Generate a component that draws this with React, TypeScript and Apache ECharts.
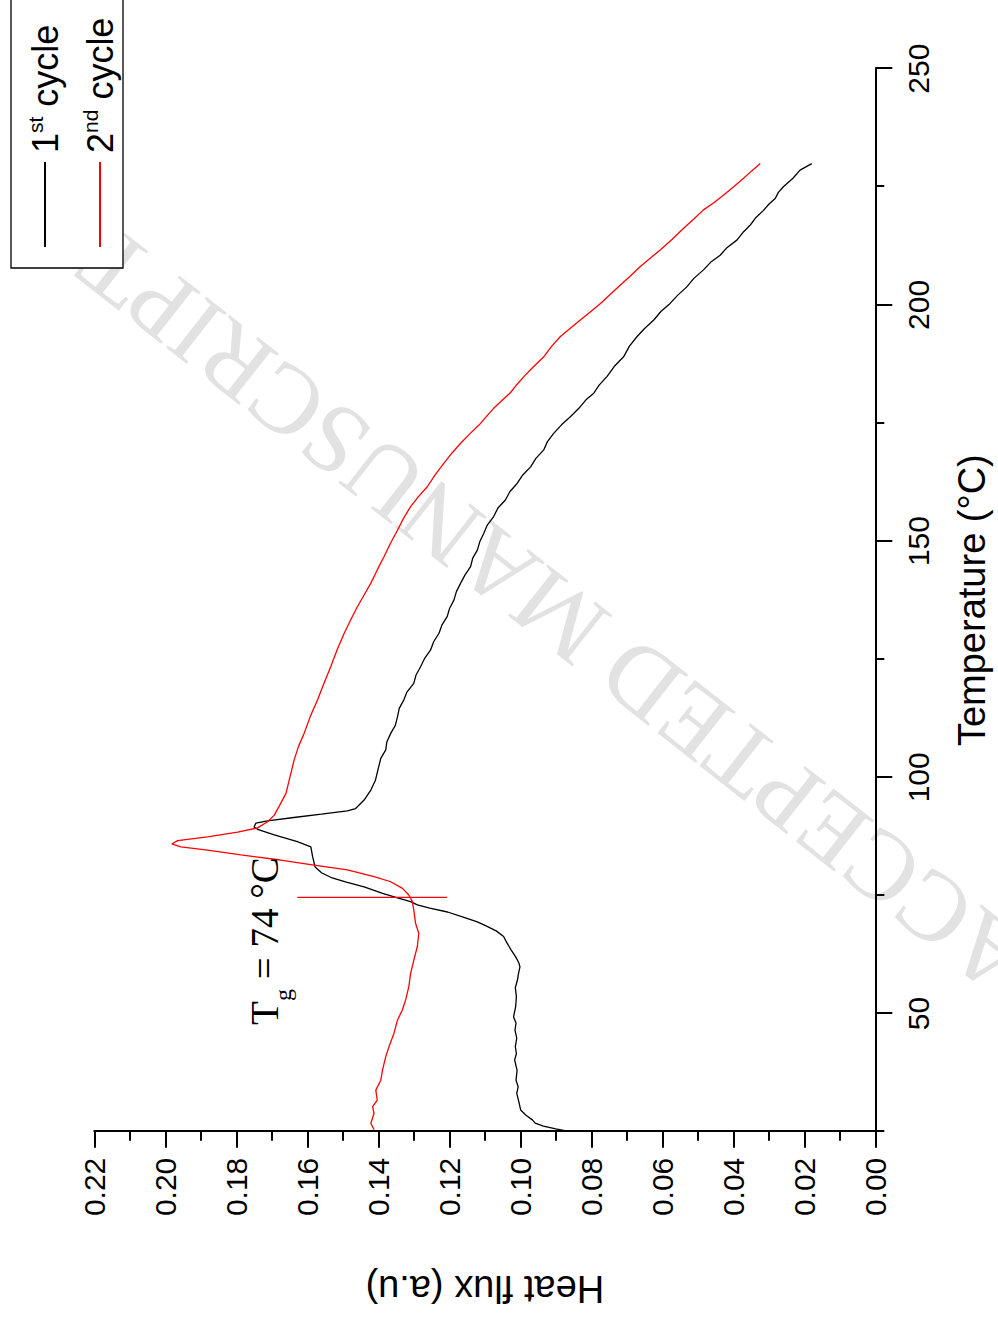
import { useEffect, useRef } from 'react';
import * as echarts from 'echarts';

// ---- data ----
const seriesNames = ['1st cycle', '2nd cycle'];

const cycle1Temp = [
  25.2, 25.6, 26.2, 26.8, 27.5, 28.5, 29.6, 31.3, 33.1, 34.5, 35.9, 38.0, 40.2, 41.5, 43.0, 44.8,
  46.5, 48.0, 49.3, 51.5, 53.6, 55.5, 57.1, 58.5, 59.9, 60.7, 62.0, 63.5, 65.0, 66.3, 67.5, 68.5,
  69.4, 70.5, 71.5, 72.3, 73.0, 73.7, 74.5, 75.5, 76.8, 77.8, 78.7, 79.8, 81.0, 83.2, 85.3, 86.4,
  87.8, 89.0, 89.5, 90.3, 90.8, 91.5, 92.2, 92.9, 93.4, 95.2, 97.3, 99.4, 102.2, 104.0, 105.8, 107.5,
  109.3, 111.0, 112.8, 114.6, 116.4, 118.1, 119.9, 121.6, 123.4, 125.1, 126.9, 128.7, 130.5, 132.2,
  134.0, 135.8, 137.5, 139.3, 141.1, 142.8, 144.6, 146.4, 148.1, 149.9, 151.6, 153.4, 155.2, 157.0,
  158.7, 160.5, 162.2, 164.0, 165.7, 167.5, 169.3, 171.0, 172.8, 174.6, 176.3, 178.1, 179.9, 181.3,
  183.0, 184.8, 187.0, 189.0, 191.2, 193.3, 195.0, 196.8, 198.6, 200.3, 202.0, 203.8, 205.6, 207.4,
  209.0, 210.5, 212.1, 213.7, 215.3, 216.9, 218.5, 220.0, 221.3, 222.5, 223.8, 225.0, 226.8, 228.5,
  229.9,
];
const cycle1Flux = [
  0.0875, 0.09, 0.0935, 0.0958, 0.0966, 0.0984, 0.0999, 0.1004, 0.101, 0.1006, 0.1012, 0.1009, 0.1016, 0.1011, 0.1014, 0.101,
  0.1015, 0.1012, 0.1019, 0.1013, 0.1011, 0.1014, 0.1008, 0.1005, 0.1001, 0.1004, 0.1013, 0.1026, 0.1038, 0.1047, 0.1068, 0.1095,
  0.1121, 0.1165, 0.1205, 0.1255, 0.129, 0.1309, 0.1346, 0.139, 0.144, 0.149, 0.153, 0.156, 0.1578, 0.1585, 0.159, 0.1628,
  0.1693, 0.174, 0.175, 0.1745, 0.1712, 0.1638, 0.156, 0.1487, 0.1464, 0.144, 0.1421, 0.1408, 0.1399, 0.1393, 0.1379, 0.1376,
  0.1365, 0.1352, 0.1346, 0.1341, 0.1328, 0.1319, 0.13, 0.1294, 0.1281, 0.1270, 0.1253, 0.1244, 0.1229, 0.1221,
  0.1206, 0.1199, 0.1187, 0.1180, 0.1168, 0.1156, 0.114, 0.1134, 0.1121, 0.1114, 0.1103, 0.1093, 0.1075, 0.1063,
  0.1042, 0.1029, 0.1009, 0.0993, 0.0971, 0.0956, 0.0934, 0.0924, 0.0906, 0.0884, 0.0859, 0.0835, 0.0815, 0.0793,
  0.0778, 0.0756, 0.0735, 0.0709, 0.0693, 0.0671, 0.0650, 0.0624, 0.0604, 0.0578, 0.0557, 0.0531, 0.0511, 0.0484,
  0.0464, 0.0437, 0.0418, 0.039, 0.0373, 0.0352, 0.0336, 0.0315, 0.0300, 0.0282, 0.0273, 0.0259, 0.0232, 0.0212,
  0.0179,
];

const cycle2Temp = [
  25.4, 26.8, 28.9, 30.3, 31.7, 33.8, 35.9, 38.1, 40.9, 43.0, 45.8, 48.6, 50.8, 52.9, 55.7, 58.5,
  61.3, 64.2, 67.0, 69.1, 71.9, 73.7, 75.1, 76.5, 77.9, 79.0, 80.4, 81.4, 82.5, 83.6, 84.6, 85.3,
  85.9, 86.6, 87.4, 88.4, 89.3, 90.6, 92.0, 94.5, 96.6, 99.4, 103.7, 106.5, 109.3, 112.8, 116.4, 119.9,
  123.4, 127.0, 130.5, 133.3, 136.1, 138.6, 141.1, 143.9, 146.7, 149.5, 152.3, 154.8, 157.3, 159.4,
  161.5, 164.0, 166.5, 168.6, 170.7, 172.8, 174.9, 176.5, 178.1, 179.8, 181.4, 183.1, 184.8, 186.9,
  189.0, 191.2, 193.3, 195.0, 196.8, 198.5, 200.3, 202.2, 204.2, 206.1, 208.1, 209.8, 211.6, 213.9,
  216.2, 218.1, 220.1, 221.6, 223.2, 225.0, 226.8, 228.3, 229.9,
];
const cycle2Flux = [
  0.1412, 0.1421, 0.1412, 0.1416, 0.1403, 0.1407, 0.1393, 0.1388, 0.1379, 0.137, 0.1356, 0.1346, 0.1332, 0.1323, 0.1314, 0.1309,
  0.13, 0.129, 0.1286, 0.1295, 0.13, 0.1304, 0.1314, 0.1332, 0.1365, 0.1412, 0.1487, 0.1581, 0.1675, 0.1787, 0.1881, 0.1956,
  0.1982, 0.1965, 0.1881, 0.1796, 0.174, 0.1712, 0.1693, 0.1675, 0.166, 0.1651, 0.1637, 0.1625, 0.1609, 0.1592, 0.1571, 0.1553,
  0.1534, 0.1516, 0.1496, 0.1478, 0.1459, 0.1440, 0.1421, 0.1403, 0.1384, 0.1366, 0.1346, 0.1329, 0.1309, 0.1287,
  0.1262, 0.1240, 0.1215, 0.1193, 0.1168, 0.1141, 0.1112, 0.1094, 0.1075, 0.1051, 0.1028, 0.1010, 0.099, 0.0963,
  0.0934, 0.0912, 0.0887, 0.0860, 0.0831, 0.0803, 0.0774, 0.0747, 0.0718, 0.0690, 0.0662, 0.0635, 0.0606, 0.0572,
  0.054, 0.0512, 0.0484, 0.0455, 0.0428, 0.0399, 0.0371, 0.0349, 0.0324,
];

// Tg marker
const tgTemp = 74.6;
const tgFluxSpan = [0.1628, 0.1206];
const tgLabelMain = 'T';
const tgLabelSub = 'g';
const tgLabelRest = ' = 74 °C';

// axes
const tempMajorTicks = [50, 100, 150, 200, 250];
const tempMinorTicks = [25, 75, 125, 175, 225];
const watermarkText = 'ACCEPTED MANUSCRIPT';

const SANS = '"Liberation Sans", Arial, Helvetica, sans-serif';
const SERIF = '"Liberation Serif", "Times New Roman", Times, serif';

const zip = (xs: number[], ys: number[]) => xs.map((x, i) => [x, ys[i]]);

const legendFormatter = (name: string) => {
  const m = name.match(/^(\d)(st|nd|rd|th) (.*)$/);
  return m ? `{n|${m[1]}}{sup|${m[2]}}{n| ${m[3]}}` : `{n|${name}}`;
};

const legendCommon = {
  orient: 'horizontal',
  left: 1073,
  padding: 0,
  itemWidth: 85,
  itemHeight: 2,
  itemGap: 0,
  selectedMode: false,
  formatter: legendFormatter,
  textStyle: {
    color: '#000',
    fontFamily: SANS,
    fontSize: 36,
    padding: [0, 0, 0, 4],
    rich: {
      n: { fontFamily: SANS, fontSize: 36, color: '#000', lineHeight: 40 },
      sup: { fontFamily: SANS, fontSize: 21, color: '#000', lineHeight: 22, verticalAlign: 'top' },
    },
  },
};

function buildOption() {
  return {
    animation: false,
    backgroundColor: '#fff',
    grid: { left: 189.3, right: 68.6, top: 94.3, bottom: 122.7, containLabel: false },
    xAxis: [
      {
        type: 'value',
        min: 25,
        max: 250,
        position: 'bottom',
        name: 'Temperature (°C)',
        nameLocation: 'middle',
        nameGap: 78,
        nameTextStyle: { fontFamily: SANS, fontSize: 38, color: '#000' },
        axisLine: { show: true, onZero: false, lineStyle: { color: '#000', width: 2 } },
        axisTick: { show: true, inside: false, length: 17, lineStyle: { color: '#000', width: 2 }, customValues: tempMajorTicks },
        axisLabel: { show: true, customValues: tempMajorTicks, fontFamily: SANS, fontSize: 30, color: '#000', margin: 28 },
        splitLine: { show: false },
      },
      {
        type: 'value',
        min: 25,
        max: 250,
        position: 'bottom',
        axisLine: { show: false, onZero: false },
        axisTick: { show: true, inside: false, length: 9, lineStyle: { color: '#000', width: 2 }, customValues: tempMinorTicks },
        axisLabel: { show: false },
        splitLine: { show: false },
      },
    ],
    yAxis: {
      type: 'value',
      min: 0,
      max: 0.22,
      interval: 0.02,
      position: 'left',
      name: 'Heat flux (a.u)',
      nameLocation: 'middle',
      nameRotate: 90,
      nameGap: 138,
      nameTextStyle: { fontFamily: SANS, fontSize: 38, color: '#000' },
      axisLine: { show: true, onZero: false, lineStyle: { color: '#000', width: 2 } },
      axisTick: { show: true, inside: false, length: 16, lineStyle: { color: '#000', width: 2 } },
      minorTick: { show: true, splitNumber: 2, length: 9, lineStyle: { color: '#000', width: 2 } },
      axisLabel: {
        fontFamily: SANS,
        fontSize: 30,
        color: '#000',
        margin: 26,
        formatter: (v: number) => v.toFixed(2),
      },
      splitLine: { show: false },
      minorSplitLine: { show: false },
    },
    legend: [
      { ...legendCommon, data: [seriesNames[0]], top: 25 },
      { ...legendCommon, data: [seriesNames[1]], top: 80 },
    ],
    graphic: [
      {
        type: 'text',
        silent: true,
        z: -10,
        x: 709,
        y: 554,
        rotation: (51.9 * Math.PI) / 180,
        style: {
          text: watermarkText,
          fontFamily: SERIF,
          fontSize: 99,
          fill: '#e2e2e2',
          align: 'center',
          verticalAlign: 'middle',
        },
      },
      {
        type: 'rect',
        silent: true,
        z: 1,
        shape: { x: 1053, y: 11, width: 400, height: 112 },
        style: { fill: '#fff', stroke: '#000', lineWidth: 1.3 },
      },
      {
        type: 'text',
        silent: true,
        z: 5,
        x: 296,
        y: 264,
        style: { text: tgLabelMain, fontFamily: SERIF, fontSize: 39, fill: '#000', align: 'left', verticalAlign: 'middle' },
      },
      {
        type: 'text',
        silent: true,
        z: 5,
        x: 320,
        y: 283,
        style: { text: tgLabelSub, fontFamily: SERIF, fontSize: 24, fill: '#000', align: 'left', verticalAlign: 'middle' },
      },
      {
        type: 'text',
        silent: true,
        z: 5,
        x: 332,
        y: 264,
        style: { text: tgLabelRest, fontFamily: SERIF, fontSize: 39, fill: '#000', align: 'left', verticalAlign: 'middle' },
      },
    ],
    series: [
      {
        name: seriesNames[0],
        type: 'line',
        xAxisIndex: 0,
        data: zip(cycle1Temp, cycle1Flux),
        symbol: 'none',
        showSymbol: false,
        lineStyle: { color: '#000', width: 1.3 },
        itemStyle: { color: '#000' },
        z: 3,
      },
      {
        name: seriesNames[1],
        type: 'line',
        xAxisIndex: 0,
        data: zip(cycle2Temp, cycle2Flux),
        symbol: 'none',
        showSymbol: false,
        lineStyle: { color: '#ff0000', width: 1.3 },
        itemStyle: { color: '#ff0000' },
        z: 3,
      },
      {
        name: 'Tg',
        type: 'line',
        xAxisIndex: 0,
        data: tgFluxSpan.map((f) => [tgTemp, f]),
        symbol: 'none',
        showSymbol: false,
        lineStyle: { color: '#ff0000', width: 1.3 },
        itemStyle: { color: '#ff0000' },
        z: 3,
      },
    ],
  };
}

export default function App() {
  const ref = useRef<HTMLDivElement>(null);
  useEffect(() => {
    if (!ref.current) return;
    const chart = echarts.init(ref.current, null, { renderer: 'svg' });
    chart.setOption(buildOption() as any);
    return () => chart.dispose();
  }, []);
  return (
    <div
      style={{
        position: 'absolute',
        left: 0,
        top: 0,
        width: 998,
        height: 1321,
        overflow: 'hidden',
        background: '#fff',
      }}
    >
      <div
        ref={ref}
        style={{
          position: 'absolute',
          left: 0,
          top: 0,
          width: 1321,
          height: 998,
          transformOrigin: '0 0',
          transform: 'translateY(1321px) rotate(-90deg)',
        }}
      />
    </div>
  );
}
